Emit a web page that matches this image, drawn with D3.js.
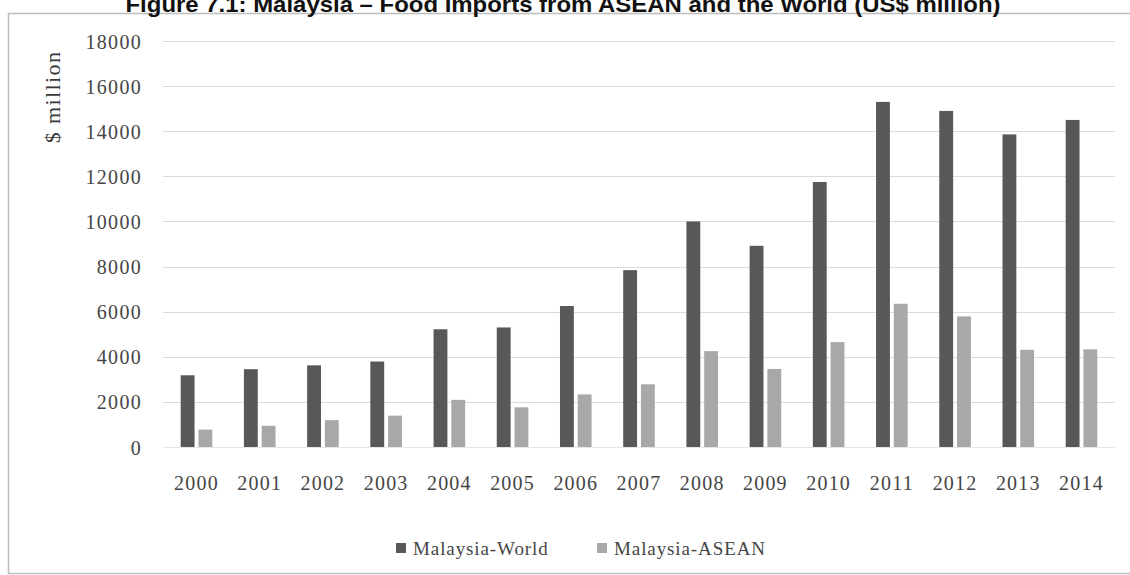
<!DOCTYPE html>
<html>
<head>
<meta charset="utf-8">
<script src="https://cdn.jsdelivr.net/npm/d3@7"></script>
<style>
  html, body { margin: 0; padding: 0; background: #fff; }
  svg { display: block; }
</style>
</head>
<body>
<svg id="chart" width="1130" height="575"></svg>
<script>
const titleText = "Figure 7.1: Malaysia \u2013 Food Imports from ASEAN and the World (US$ million)";
const years = ["2000","2001","2002","2003","2004","2005","2006","2007","2008","2009","2010","2011","2012","2013","2014"];
const seriesNames = ["Malaysia-World", "Malaysia-ASEAN"];
const worldValues = [3180, 3450, 3620, 3790, 5220, 5300, 6250, 7840, 10000, 8920, 11750, 15300, 14900, 13860, 14500];
const aseanValues = [770, 940, 1190, 1390, 2090, 1760, 2330, 2780, 4250, 3460, 4650, 6350, 5790, 4310, 4330];
const yTicks = [0, 2000, 4000, 6000, 8000, 10000, 12000, 14000, 16000, 18000];
const yLabel = "$ million";

const colors = {"Malaysia-World": "#585858", "Malaysia-ASEAN": "#a8a8a8"};
const serif = "'Liberation Serif', 'DejaVu Serif', serif";

const svg = d3.select("#chart");

// outer frame
svg.append("rect")
  .attr("x", 8.5).attr("y", 13.5).attr("width", 1130).attr("height", 560)
  .attr("fill", "#fff").attr("stroke", "#bdbdbd").attr("stroke-width", 1.5);

// title (top clipped as in the reference)
const title = svg.append("text")
  .attr("x", 563).attr("y", 12)
  .attr("text-anchor", "middle")
  .attr("font-family", "'Liberation Sans', Arial, sans-serif")
  .attr("font-weight", "bold")
  .attr("font-size", 22)
  .attr("fill", "#111")
  .text(titleText);
title.attr("textLength", 875).attr("lengthAdjust", "spacingAndGlyphs");

const plot = {left: 163, right: 1115, top: 41, bottom: 447};

const y = d3.scaleLinear().domain([0, 18000]).range([plot.bottom, plot.top]);
const x = d3.scaleBand().domain(years).range([plot.left, plot.right]).paddingInner(0.5).paddingOuter(0.28);
const x1 = d3.scaleBand().domain(seriesNames).range([0, x.bandwidth()]).paddingInner(0.22);

// gridlines
svg.append("g")
  .selectAll("line")
  .data(yTicks.filter(d => d > 0))
  .join("line")
  .attr("x1", plot.left).attr("x2", plot.right)
  .attr("y1", d => Math.round(y(d)) + 0.5).attr("y2", d => Math.round(y(d)) + 0.5)
  .attr("stroke", "#dcdcdc").attr("stroke-width", 1);

// y axis labels
const yAxis = d3.axisLeft(y).tickValues(yTicks).tickSize(0).tickPadding(0).tickFormat(d3.format("d"));
const yg = svg.append("g").attr("transform", `translate(142,0)`).call(yAxis);
yg.select(".domain").remove();
yg.selectAll("text")
  .attr("font-family", serif).attr("font-size", 20).attr("fill", "#454545")
  .attr("letter-spacing", 1.3).attr("dy", "0.35em");

// y label
svg.append("text")
  .attr("transform", "translate(60,97) rotate(-90)")
  .attr("text-anchor", "middle")
  .attr("font-family", serif).attr("font-size", 22).attr("letter-spacing", 1.4)
  .attr("fill", "#383838")
  .text(yLabel);

// bars
const rows = years.map((yr, i) => ({year: yr, values: [
  {key: "Malaysia-World", value: worldValues[i]},
  {key: "Malaysia-ASEAN", value: aseanValues[i]}
]}));

svg.append("g")
  .selectAll("g")
  .data(rows)
  .join("g")
  .attr("transform", d => `translate(${x(d.year)},0)`)
  .selectAll("rect")
  .data(d => d.values)
  .join("rect")
  .attr("x", d => x1(d.key))
  .attr("width", x1.bandwidth())
  .attr("y", d => y(d.value))
  .attr("height", d => y(0) - y(d.value))
  .attr("fill", d => colors[d.key]);

// baseline
svg.append("line")
  .attr("x1", plot.left).attr("x2", plot.right)
  .attr("y1", plot.bottom + 0.5).attr("y2", plot.bottom + 0.5)
  .attr("stroke", "#e6e6e6");

// x axis labels
const xAxis = d3.axisBottom(x).tickSize(0).tickPadding(0);
const xg = svg.append("g").attr("transform", `translate(0,${plot.bottom})`).call(xAxis);
xg.select(".domain").remove();
xg.selectAll("text")
  .attr("font-family", serif).attr("font-size", 20).attr("fill", "#454545")
  .attr("letter-spacing", 1.2).attr("dy", "2.15em");

// legend
const legend = svg.append("g").attr("transform", "translate(396,548)");
const legendX = [0, 201];
seriesNames.forEach((name, i) => {
  const g = legend.append("g").attr("transform", `translate(${legendX[i]},0)`);
  g.append("rect").attr("x", 0).attr("y", -5).attr("width", 10).attr("height", 10).attr("fill", colors[name]);
  g.append("text").attr("x", 17).attr("y", 0).attr("dy", "0.35em")
    .attr("font-family", serif).attr("font-size", 19).attr("letter-spacing", 0.9)
    .attr("fill", "#454545").text(name);
});
</script>
</body>
</html>
